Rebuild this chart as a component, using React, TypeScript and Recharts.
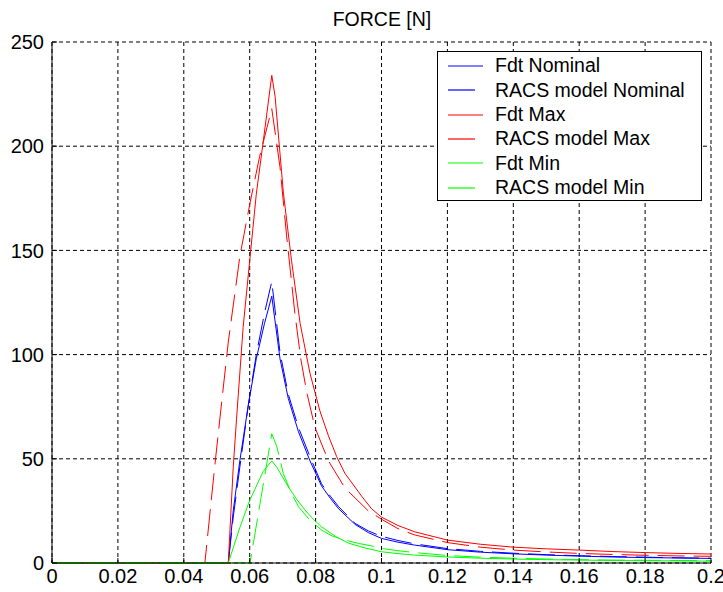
import { LineChart, Line, XAxis, YAxis, CartesianGrid, Legend } from 'recharts'

// time [s] and force [N]
const fdtNominalT = [0, 0.0535, 0.055, 0.057, 0.0596, 0.062, 0.0645, 0.0667, 0.0692, 0.0717, 0.0748, 0.0783, 0.0818, 0.0845, 0.087, 0.092, 0.096, 0.1, 0.105, 0.11, 0.12, 0.13, 0.14, 0.15, 0.16, 0.17, 0.18, 0.19, 0.2]
const fdtNominalF = [0, 0, 25, 49, 76, 98, 115, 128, 98, 79, 63, 49, 37, 31, 26, 18.5, 14.6, 11.8, 10, 8.6, 6.4, 5.2, 4.4, 3.8, 3.3, 2.9, 2.6, 2.4, 2.2]

const racsNominalT = [0, 0.0535, 0.055, 0.057, 0.0596, 0.062, 0.0645, 0.0667, 0.0692, 0.0717, 0.0748, 0.0783, 0.0818, 0.0845, 0.087, 0.092, 0.096, 0.1, 0.105, 0.11, 0.12, 0.13, 0.14, 0.15, 0.16, 0.17, 0.18, 0.19, 0.2]
const racsNominalF = [0, 0, 22, 46, 76, 100, 120, 135, 101, 81, 65, 51, 38, 32, 27, 19, 15.4, 12.8, 10.8, 9.2, 6.9, 5.6, 4.7, 4.0, 3.5, 3.1, 2.8, 2.5, 2.3]

const fdtMaxT = [0, 0.0535, 0.055, 0.056, 0.058, 0.06, 0.062, 0.064, 0.0667, 0.0677, 0.0702, 0.0727, 0.0753, 0.0783, 0.0813, 0.0839, 0.0864, 0.0889, 0.094, 0.097, 0.1, 0.105, 0.11, 0.12, 0.13, 0.14, 0.15, 0.16, 0.17, 0.18, 0.19, 0.2]
const fdtMaxF = [0, 0, 46, 69, 113, 145, 177, 201, 234, 224, 178, 145, 115, 91, 73, 61, 51, 43, 32, 26, 22, 18, 15, 11, 9, 7.6, 6.8, 6.2, 5.5, 5, 4.6, 4.3]

const racsMaxT = [0, 0.0464, 0.048, 0.0495, 0.051, 0.0535, 0.057, 0.06, 0.063, 0.0667, 0.0692, 0.0712, 0.0737, 0.0755, 0.0773, 0.0798, 0.0839, 0.0889, 0.096, 0.1, 0.105, 0.11, 0.12, 0.13, 0.14, 0.15, 0.16, 0.17, 0.18, 0.19, 0.2]
const racsMaxF = [0, 0, 25, 48, 70, 106, 147, 172, 195, 218, 190, 157, 120, 98, 82, 65, 49, 36, 25, 21, 16.5, 13.5, 9.8, 7.6, 6.2, 5.3, 4.6, 4.1, 3.7, 3.4, 3.2]

const fdtMinT = [0, 0.0535, 0.057, 0.06, 0.0641, 0.0667, 0.0682, 0.0717, 0.0743, 0.0768, 0.0793, 0.0818, 0.086, 0.09, 0.095, 0.1, 0.105, 0.11, 0.12, 0.13, 0.14, 0.15, 0.16, 0.17, 0.18, 0.19, 0.2]
const fdtMinF = [0, 0, 17, 30, 44, 49, 46, 36.6, 30.5, 25.4, 21, 17.4, 12.8, 9.5, 7.2, 5.4, 4.5, 3.8, 2.9, 2.3, 1.9, 1.6, 1.4, 1.2, 1.1, 1.0, 0.9]

const racsMinT = [0, 0.0601, 0.0634, 0.0667, 0.0682, 0.0702, 0.0725, 0.0748, 0.0783, 0.0818, 0.085, 0.0889, 0.093, 0.097, 0.1, 0.105, 0.11, 0.12, 0.13, 0.14, 0.15, 0.16, 0.17, 0.18, 0.19, 0.2]
const racsMinF = [0, 0, 31, 62, 56, 43, 34, 27, 20.5, 15.8, 13, 11, 9.4, 8.2, 7, 5.9, 5, 3.6, 2.8, 2.3, 1.9, 1.6, 1.4, 1.3, 1.2, 1.1]

const xTicks = [0, 0.02, 0.04, 0.06, 0.08, 0.1, 0.12, 0.14, 0.16, 0.18, 0.2]
const yTicks = [0, 50, 100, 150, 200, 250]

const toPoints = (t: number[], f: number[]) => t.map((x, i) => ({ t: x, f: f[i] }))

const series = [
  { name: 'Fdt Nominal', data: toPoints(fdtNominalT, fdtNominalF), color: '#0000ff', dashed: false },
  { name: 'RACS model Nominal', data: toPoints(racsNominalT, racsNominalF), color: '#0000ff', dashed: true },
  { name: 'Fdt Max', data: toPoints(fdtMaxT, fdtMaxF), color: '#ff0000', dashed: false },
  { name: 'RACS model Max', data: toPoints(racsMaxT, racsMaxF), color: '#ff0000', dashed: true },
  { name: 'Fdt Min', data: toPoints(fdtMinT, fdtMinF), color: '#00ff00', dashed: false },
  { name: 'RACS model Min', data: toPoints(racsMinT, racsMinF), color: '#00ff00', dashed: true },
]

const DASH = '27 9'
const tickFont = { fontSize: 20, fill: '#000', fontFamily: "'Liberation Sans', Arial, sans-serif" }

function LegendBox() {
  return (
    <div
      style={{
        border: '1px solid #000',
        background: '#fff',
        padding: '2px 0 0 0',
        fontFamily: "'Liberation Sans', Arial, sans-serif",
        fontSize: 19.5,
        color: '#000',
      }}
    >
      {series.map((s) => (
        <div key={s.name} style={{ height: 24.3, display: 'flex', alignItems: 'center' }}>
          <svg width={57} height={10} style={{ flexShrink: 0 }}>
            <line
              x1={10}
              x2={45}
              y1={5}
              y2={5}
              stroke={s.color}
              strokeWidth={1.2}
              strokeDasharray={s.dashed ? DASH : undefined}
            />
          </svg>
          <span style={{ lineHeight: 1, whiteSpace: 'nowrap' }}>{s.name}</span>
        </div>
      ))}
    </div>
  )
}

export default function App() {
  return (
    <div style={{ position: 'absolute', left: 0, top: 0, width: 723, height: 592, background: '#fff' }}>
      <div
        style={{
          position: 'absolute',
          left: 282,
          top: 10,
          width: 200,
          textAlign: 'center',
          fontFamily: "'Liberation Sans', Arial, sans-serif",
          fontSize: 19.5,
          lineHeight: 1,
          color: '#000',
        }}
      >
        FORCE [N]
      </div>
      <LineChart width={723} height={592} margin={{ top: 42, right: 12, bottom: 0, left: 0 }}>
        <CartesianGrid stroke="#000" strokeDasharray="4 3" horizontalValues={yTicks} verticalValues={xTicks} />
        <XAxis
          dataKey="t"
          type="number"
          domain={[0, 0.2]}
          ticks={xTicks}
          allowDataOverflow
          height={29}
          tickSize={-5}
          tickMargin={11}
          tickFormatter={(v: number) => String(v)}
          tick={tickFont}
          stroke="#000"
          interval={0}
        />
        <XAxis
          xAxisId="top"
          orientation="top"
          dataKey="t"
          type="number"
          domain={[0, 0.2]}
          ticks={xTicks}
          height={0}
          tickSize={-5}
          tick={false}
          axisLine={false}
          stroke="#000"
        />
        <YAxis
          type="number"
          domain={[0, 250]}
          ticks={yTicks}
          width={52}
          tickSize={-5}
          tickMargin={13}
          tick={tickFont}
          stroke="#000"
          interval={0}
        />
        <YAxis
          yAxisId="right"
          orientation="right"
          type="number"
          domain={[0, 250]}
          ticks={yTicks}
          width={0}
          tickSize={-5}
          tick={false}
          axisLine={false}
          stroke="#000"
        />
        <Legend
          layout="vertical"
          align="center"
          verticalAlign="middle"
          wrapperStyle={{ top: 51, left: 437, width: 265 }}
          content={() => <LegendBox />}
        />
        {series.map((s) => (
          <Line
            key={s.name}
            name={s.name}
            data={s.data}
            dataKey="f"
            type="linear"
            stroke={s.color}
            strokeWidth={1}
            strokeDasharray={s.dashed ? DASH : undefined}
            dot={false}
            activeDot={false}
            isAnimationActive={false}
          />
        ))}
      </LineChart>
    </div>
  )
}
